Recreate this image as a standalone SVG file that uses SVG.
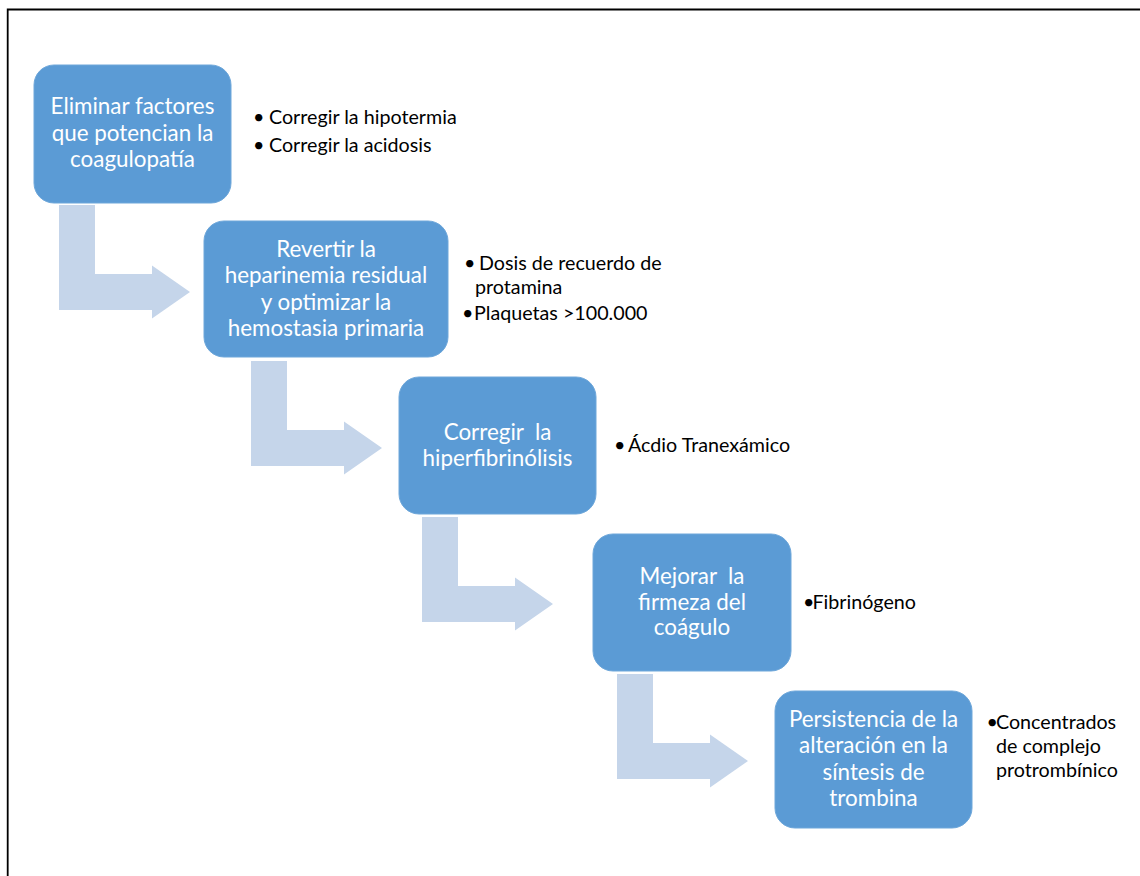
<svg xmlns="http://www.w3.org/2000/svg" width="1140" height="876" viewBox="0 0 1140 876">
<style>
.box{fill:#5b9bd5;stroke:#6ea7da;stroke-width:1}
.bt{font-family:Lato,"Open Sans",sans-serif;font-size:22.4px;fill:#ffffff;text-anchor:middle;white-space:pre}
.lt{font-family:Lato,"Open Sans",sans-serif;font-size:19.7px;fill:#000000}
.arr{fill:#c5d5ea}
</style>
<defs>
<path id="bend" d="M0,0 h36 v69 h57 v-8.5 l38,26.5 l-38,26.5 v-8.5 h-93 z"/>
</defs>
<rect x="0" y="0" width="1140" height="876" fill="#ffffff"/>
<path d="M7.7,876 V9.5 H1140" fill="none" stroke="#000" stroke-width="1.8"/>
<g id="connectors">
<use href="#bend" class="arr" x="59" y="205"/>
<use href="#bend" class="arr" x="251" y="361"/>
<use href="#bend" class="arr" x="422" y="517"/>
<use href="#bend" class="arr" x="617" y="674"/>
</g>
<g id="node1">
<rect class="box" x="34" y="65" width="197" height="138" rx="20"/>
<text class="bt"><tspan x="132.5" y="114">Eliminar factores</tspan><tspan x="132.5" y="140.5">que potencian la</tspan><tspan x="132.5" y="167">coagulopatía</tspan></text>
<text class="lt"><tspan x="253" y="124">•</tspan><tspan x="269" y="124">Corregir la hipotermia</tspan><tspan x="253" y="151.5">•</tspan><tspan x="269" y="151.5">Corregir la acidosis</tspan></text>
</g>
<g id="node2">
<rect class="box" x="204" y="221" width="244" height="136" rx="20"/>
<text class="bt"><tspan x="326" y="256.5">Revertir la</tspan><tspan x="326" y="283">heparinemia residual</tspan><tspan x="326" y="309.5">y optimizar la</tspan><tspan x="326" y="336">hemostasia primaria</tspan></text>
<text class="lt"><tspan x="464" y="270">•</tspan><tspan x="479" y="270">Dosis de recuerdo de</tspan><tspan x="475" y="293.5">protamina</tspan><tspan x="462" y="320">•</tspan><tspan x="474" y="320">Plaquetas &gt;100.000</tspan></text>
</g>
<g id="node3">
<rect class="box" x="399" y="377" width="197" height="137" rx="20"/>
<text class="bt" xml:space="preserve"><tspan x="497.5" y="440">Corregir  la</tspan><tspan x="497.5" y="466">hiperfibrinólisis</tspan></text>
<text class="lt"><tspan x="614" y="451.5">•</tspan><tspan x="628" y="451.5">Ácdio Tranexámico</tspan></text>
</g>
<g id="node4">
<rect class="box" x="593" y="534" width="198" height="137" rx="20"/>
<text class="bt" xml:space="preserve"><tspan x="692" y="583.5">Mejorar  la</tspan><tspan x="692" y="609.5">firmeza del</tspan><tspan x="692" y="635">coágulo</tspan></text>
<text class="lt"><tspan x="803" y="608.5">•</tspan><tspan x="812.5" y="608.5">Fibrinógeno</tspan></text>
</g>
<g id="node5">
<rect class="box" x="775" y="691" width="197" height="137" rx="20"/>
<text class="bt"><tspan x="873.5" y="726.5">Persistencia de la</tspan><tspan x="873.5" y="753">alteración en la</tspan><tspan x="873.5" y="779.5">síntesis de</tspan><tspan x="873.5" y="806">trombina</tspan></text>
<text class="lt"><tspan x="986.5" y="728.5">•</tspan><tspan x="996" y="728.5">Concentrados</tspan><tspan x="996" y="753">de complejo</tspan><tspan x="996" y="776.5">protrombínico</tspan></text>
</g>
</svg>
